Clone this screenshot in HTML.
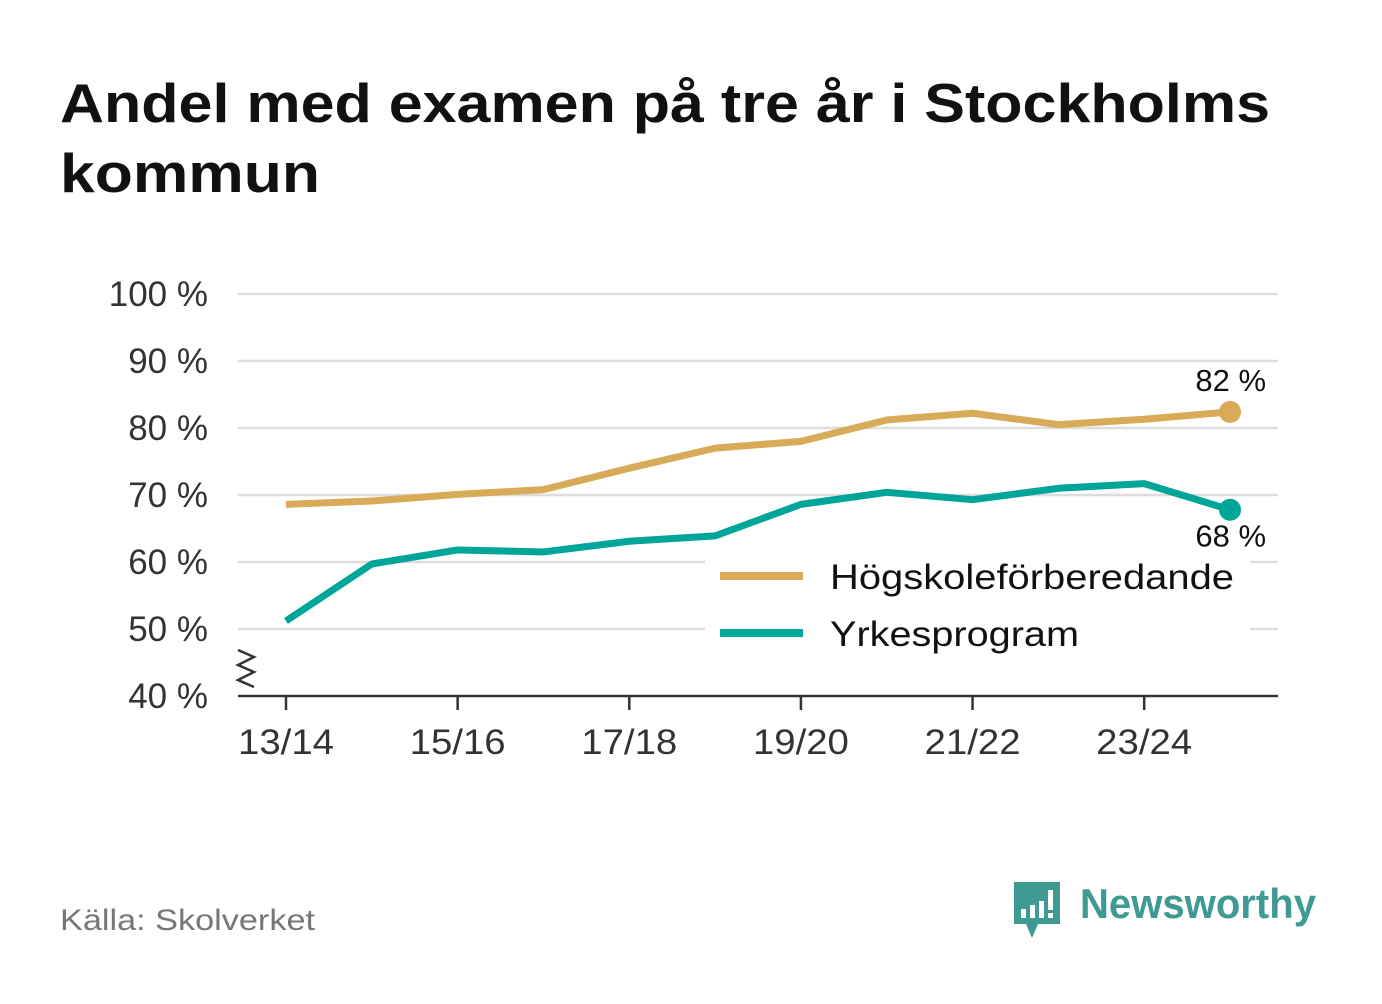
<!DOCTYPE html>
<html><head><meta charset="utf-8"><style>
body{margin:0;background:#fff;width:1382px;height:999px;overflow:hidden;font-family:"Liberation Sans",sans-serif}
</style></head><body>
<svg width="1382" height="999">
<text x="60" y="122" font-size="55" font-weight="bold" fill="#111" textLength="1210" lengthAdjust="spacingAndGlyphs">Andel med examen på tre år i Stockholms</text>
<text x="60" y="192" font-size="55" font-weight="bold" fill="#111" textLength="260" lengthAdjust="spacingAndGlyphs">kommun</text>
<g id="grid"></g>
<g id="yticks" font-size="35" fill="#333" text-anchor="end"></g>
<line x1="238" y1="696" x2="1278" y2="696" stroke="#333" stroke-width="2.5"/>
<path d="M238 650 L254 657 L238 665 L254 672 L238 680 L254 687" fill="none" stroke="#333" stroke-width="2.5"/>
<g id="xticks" font-size="35" fill="#333" text-anchor="middle"></g>
<g id="lines"></g>
<rect x="705" y="550" width="545" height="112" fill="#fff"/>
<line x1="720" y1="576" x2="803" y2="576" stroke="#d9aa58" stroke-width="8"/>
<text x="830" y="589" font-size="35" fill="#111" textLength="404" lengthAdjust="spacingAndGlyphs">Högskoleförberedande</text>
<line x1="720" y1="633" x2="803" y2="633" stroke="#00a599" stroke-width="8"/>
<text x="830" y="646" font-size="35" fill="#111" textLength="249" lengthAdjust="spacingAndGlyphs">Yrkesprogram</text>
<text x="60" y="930" font-size="30" fill="#777" textLength="255" lengthAdjust="spacingAndGlyphs">Källa: Skolverket</text>
<g>
<path d="M1014 882 h46 v42 h-22 l-6 14 l-6 -14 h-12 z" fill="#3f9a93"/>
<rect x="1021" y="909" width="5" height="9" fill="#fff"/><rect x="1030" y="905" width="5" height="13" fill="#fff"/><rect x="1039" y="901" width="5" height="17" fill="#fff"/><rect x="1048" y="890" width="5" height="20" fill="#fff"/><rect x="1048" y="913" width="5" height="5" fill="#fff"/>
<text x="1080" y="918" font-size="42" font-weight="bold" fill="#3f9a93" textLength="236" lengthAdjust="spacingAndGlyphs">Newsworthy</text>
</g>
</svg>
<script>
const categories=["13/14","14/15","15/16","16/17","17/18","18/19","19/20","20/21","21/22","22/23","23/24","24/25"];
const hogskole=[68.6,69.1,70.1,70.8,74.0,77.0,78.0,81.2,82.2,80.5,81.3,82.4];
const yrkes=[51.2,59.7,61.8,61.5,63.1,63.9,68.6,70.4,69.3,71.0,71.7,67.8];
const endLabels=["82 %","68 %"];
const yTicks=[40,50,60,70,80,90,100];
const xLabels=["13/14","15/16","17/18","19/20","21/22","23/24"];
const ns="http://www.w3.org/2000/svg";
const X=i=>286+i*85.82, Y=v=>696-(v-40)*6.7;
function mk(t,a,p){const e=document.createElementNS(ns,t);for(const k in a)e.setAttribute(k,a[k]);document.getElementById(p).appendChild(e);return e;}
yTicks.forEach(v=>{
 if(v>40){const g=mk('line',{x1:238,x2:1278,y1:Y(v),y2:Y(v),stroke:'#ddd','stroke-width':2.5},'grid');
 
 }
 const t=mk('text',{x:208,y:Y(v)+12},'yticks');t.textContent=v+' %';
 
 
});
xLabels.forEach(l=>{const i=categories.indexOf(l);
 const tk=mk('line',{x1:X(i),x2:X(i),y1:696,y2:710,stroke:'#333','stroke-width':2.5},'xticks');
 
 
 const t=mk('text',{x:X(i),y:754,textLength:96,lengthAdjust:'spacingAndGlyphs'},'xticks');t.textContent=l;
 
 
});
function series(d,c,name,labDy,lab){
 const p=mk('polyline',{points:d.map((v,i)=>X(i)+','+Y(v)).join(' '),fill:'none',stroke:c,'stroke-width':7,'stroke-linejoin':'round'},'lines');
 
 
 const n=d.length-1;
 const dot=mk('circle',{cx:X(n),cy:Y(d[n]),r:11,fill:c},'lines');
 
 
 const t=mk('text',{x:X(n)+36,y:Y(d[n])+labDy,'font-size':31,fill:'#111','text-anchor':'end'},'lines');
 t.textContent=lab;
 
 
}
series(hogskole,'#d9aa58','hogskole',-21,endLabels[0]);
series(yrkes,'#00a599','yrkes',37,endLabels[1]);
</script>
</body></html>
